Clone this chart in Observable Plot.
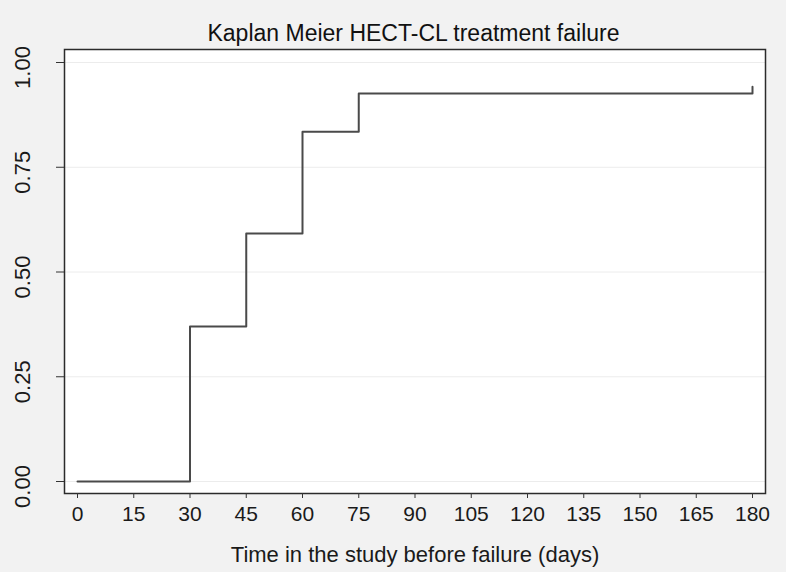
<!DOCTYPE html>
<html><head><meta charset="utf-8">
<script src="https://cdn.jsdelivr.net/npm/d3@7"></script>
<script src="https://cdn.jsdelivr.net/npm/@observablehq/plot@0.6"></script>
<style>
body{margin:0;background:#f2f2f2;}
#wrap{width:786px;height:572px;background:#f2f2f2;font-family:"Liberation Sans",Arial,sans-serif;overflow:hidden;}
#title{margin-left:63px;width:701px;text-align:center;font-size:23px;line-height:23px;padding-top:22px;height:23px;color:#111;}
#chart svg{display:block;}
</style></head><body>
<div id="wrap"><div id="title">Kaplan Meier HECT-CL treatment failure</div><div id="chart"></div></div>
<script>
const days = [0, 30, 45, 60, 75, 180];
const failure = [0, 0.370, 0.592, 0.835, 0.926, 0.942];
const xTicks = [0, 15, 30, 45, 60, 75, 90, 105, 120, 135, 150, 165, 180];
const yTicks = [0, 0.25, 0.5, 0.75, 1];
const data = days.map((d, i) => ({day: d, failure: failure[i]}));
const font = '"Liberation Sans", Arial, sans-serif';
const plot = Plot.plot({
  width: 786, height: 527,
  marginTop: 4, marginLeft: 64, marginRight: 21, marginBottom: 79,
  insetLeft: 13, insetRight: 13, insetTop: 13, insetBottom: 12,
  style: {background: "transparent", fontFamily: font, fontSize: "20px", color: "#1a1a1a", overflow: "visible"},
  x: {domain: [0, 180]},
  y: {domain: [0, 1]},
  marks: [
    Plot.frame({fill: "white"}),
    Plot.gridY(yTicks, {stroke: "#ececec", strokeOpacity: 1, strokeWidth: 1}),
    Plot.line(data, {x: "day", y: "failure", curve: "step-after", stroke: "#4a4a4a", strokeWidth: 2}),
    Plot.frame({stroke: "#2b2b2b", strokeWidth: 1.5}),
    Plot.axisY(yTicks, {tickSize: 8, tickFormat: () => "", label: null, stroke: "#333"}),
    Plot.axisY(yTicks, {tickFormat: d3.format(".2f"), tickRotate: -90, tickSize: 0, tickPadding: 35, dy: 5, label: null, fontSize: 22}),
    Plot.axisX(xTicks, {tickSize: 5, tickPadding: 8, stroke: "#333", fontSize: 21, label: null}),
    Plot.axisX(xTicks, {tickSize: 0, tickFormat: () => "", dx: -7, fontSize: 22, label: "Time in the study before failure (days)", labelAnchor: "center", labelArrow: "none", labelOffset: 68})
  ]
});
document.getElementById("chart").appendChild(plot);
</script>
</body></html>
